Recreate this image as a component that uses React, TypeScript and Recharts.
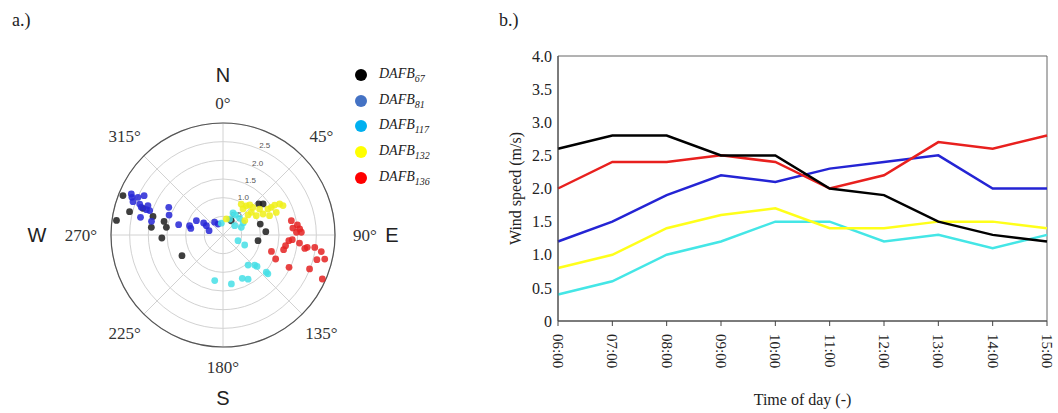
import React from "react";
import {
  RadarChart, Radar, PolarGrid, PolarAngleAxis, PolarRadiusAxis,
  ScatterChart, Scatter, XAxis, YAxis,
  LineChart, Line, ReferenceArea,
} from "recharts";

// ---------- data: polar scatter (direction in degrees from N, speed m/s) ----------
const angleLabels = ["0°", "45°", "90°", "135°", "180°", "225°", "270°", "315°"];
const compassLetters: Record<string, string> = { "0°": "N", "90°": "E", "180°": "S", "270°": "W" };
const radiusTicks = [0, 0.5, 1.0, 1.5, 2.0, 2.5, 3.0];

const dafb67Polar: [number, number][] = [
  [291.5, 2.88], [277.8, 2.88], [284, 2.58], [288.4, 2.26], [284.9, 1.94], [276.1, 1.93],
  [283, 1.62], [277.7, 1.53], [267.2, 1.64], [243.3, 1.23], [49, 1.27], [52.2, 1.36],
  [73.6, 1.04], [85.5, 1.15], [99.2, 0.95], [30, 0.44],
];
const dafb81Polar: [number, number][] = [
  [294.1, 2.69], [292.5, 2.64], [293.9, 2.49], [296.5, 2.36], [290.3, 2.57], [290.4, 2.38],
  [288.7, 2.31], [291.4, 2.16], [288.4, 2.07], [282.1, 2.26], [280.8, 1.95], [297, 1.63],
  [290.3, 1.54], [283.1, 1.22], [285.6, 0.93], [298.3, 0.81], [281.6, 0.88], [301.8, 0.61],
  [299.2, 0.51], [287.2, 0.39], [326.7, 0.41], [335.6, 0.32], [288.3, 2.16],
];
const dafb117Polar: [number, number][] = [
  [24.4, 0.65], [31.7, 0.63], [51.3, 0.4], [67.3, 0.53], [59, 0.63], [45, 0.63],
  [110.7, 0.43], [114.8, 0.64], [140.2, 1.05], [133.5, 1.17], [132.7, 1.24], [130.7, 1.53],
  [130.9, 1.59], [190.3, 1.24], [170.3, 1.33], [156, 1.27], [150.4, 1.36], [22.6, 0.46],
  [352, 0.32],
];
const dafb132Polar: [number, number][] = [
  [30.6, 0.96], [38.5, 1.0], [41.6, 1.08], [47.3, 1.09], [37.6, 0.88], [51.3, 0.97],
  [51.3, 0.86], [59.9, 1.03], [62.3, 1.21], [60, 1.39], [60.2, 1.49], [59.9, 1.6],
  [61.3, 1.73], [63.9, 1.79], [67.5, 1.35], [67, 1.55], [54.7, 1.2], [56.5, 0.7], [11.8, 0.44],
];
const dafb136Polar: [number, number][] = [
  [78.2, 1.87], [82.3, 2.01], [84.3, 1.88], [85.5, 2.06], [87.9, 1.97], [88, 2.1],
  [94.9, 1.77], [93.9, 1.86], [99.7, 1.7], [103.6, 1.67], [96, 2.06], [99.3, 2.22],
  [98.3, 2.28], [97.7, 2.48], [99.6, 2.67], [104.7, 2.6], [103.3, 2.8], [108.7, 1.37],
  [114.5, 1.55], [116.1, 1.97], [111.4, 2.49], [113.9, 2.91],
];

// ---------- data: hourly wind speed (m/s) ----------
const times = ["06:00", "07:00", "08:00", "09:00", "10:00", "11:00", "12:00", "13:00", "14:00", "15:00"];
const dafb67Speed = [2.6, 2.8, 2.8, 2.5, 2.5, 2.0, 1.9, 1.5, 1.3, 1.2];
const dafb81Speed = [1.2, 1.5, 1.9, 2.2, 2.1, 2.3, 2.4, 2.5, 2.0, 2.0];
const dafb117Speed = [0.4, 0.6, 1.0, 1.2, 1.5, 1.5, 1.2, 1.3, 1.1, 1.3];
const dafb132Speed = [0.8, 1.0, 1.4, 1.6, 1.7, 1.4, 1.4, 1.5, 1.5, 1.4];
const dafb136Speed = [2.0, 2.4, 2.4, 2.5, 2.4, 2.0, 2.2, 2.7, 2.6, 2.8];
const speedTicks = [0, 0.5, 1.0, 1.5, 2.0, 2.5, 3.0, 3.5, 4.0];

const seriesNames = ["67", "81", "117", "132", "136"];

// ---------- layout / style ----------
const CX = 223;
const CY = 235;
const R = 112;
const SERIF = "'Liberation Serif', 'Times New Roman', serif";
const SANS = "'Liberation Sans', Arial, sans-serif";

const scatterColors = ["#1c1c1c", "#2626d6", "#45dfe6", "#f0f018", "#e42222"];
const legendColors = ["#000000", "#4472c4", "#00b0f0", "#ffff00", "#ff0000"];
const lineColors = ["#000000", "#2424d4", "#44e6e6", "#ffff1a", "#e8201e"];

const toXY = (pts: [number, number][]) =>
  pts.map(([dir, s]) => ({
    x: s * Math.sin((dir * Math.PI) / 180),
    y: s * Math.cos((dir * Math.PI) / 180),
  }));

const polarSeries = [dafb67Polar, dafb81Polar, dafb117Polar, dafb132Polar, dafb136Polar].map(toXY);
const angleData = angleLabels.map((label) => ({ label, base: 0 }));
const lineData = times.map((time, i) => ({
  time,
  s67: dafb67Speed[i],
  s81: dafb81Speed[i],
  s117: dafb117Speed[i],
  s132: dafb132Speed[i],
  s136: dafb136Speed[i],
}));

const letterRadius: Record<string, number> = { N: 160, E: 169, S: 163, W: 186 };

const AngleTick = (props: any) => {
  const label = String(props.payload.value);
  const deg = parseFloat(label);
  const rad = (deg * Math.PI) / 180;
  const r = 132 + 10 * Math.abs(Math.sin(rad));
  const x = CX + r * Math.sin(rad);
  const y = CY - r * Math.cos(rad);
  const letter = compassLetters[label];
  return (
    <g>
      <text x={x} y={y} textAnchor="middle" dominantBaseline="central" fontFamily={SERIF} fontSize={17} fill="#333">
        {label}
      </text>
      {letter ? (
        <text
          x={CX + letterRadius[letter] * Math.sin(rad)}
          y={CY - letterRadius[letter] * Math.cos(rad)}
          textAnchor="middle"
          dominantBaseline="central"
          fontFamily={SANS}
          fontSize={20}
          fill="#222"
        >
          {letter}
        </text>
      ) : null}
    </g>
  );
};

const RadiusTick = (props: any) => {
  const v = Number(props.payload.value);
  if (v === 0 || v >= 3) return <g />;
  return (
    <text x={props.x + 6} y={props.y - 3} textAnchor="middle" dominantBaseline="central" fontFamily={SANS} fontSize={8} fill="#555">
      {v.toFixed(1)}
    </text>
  );
};

const TimeTick = (props: any) => {
  const { x, y, payload } = props;
  return (
    <text
      transform={`translate(${x},${y + 6}) rotate(90)`}
      textAnchor="start"
      dominantBaseline="central"
      fontFamily={SERIF}
      fontSize={15}
      fill="#222"
    >
      {payload.value}
    </text>
  );
};

const dotShape = (color: string) => (p: any) => (
  <circle cx={p.cx} cy={p.cy} r={3.4} fill={color} fillOpacity={0.85} />
);

export default function App() {
  return (
    <div style={{ position: "absolute", left: 0, top: 0, width: 1058, height: 413, background: "#fff", overflow: "hidden" }}>
      <div style={{ position: "absolute", left: 12, top: 10, fontFamily: SERIF, fontSize: 18, color: "#222" }}>a.)</div>
      <div style={{ position: "absolute", left: 499, top: 10, fontFamily: SERIF, fontSize: 18, color: "#222" }}>b.)</div>

      {/* polar grid */}
      <div style={{ position: "absolute", left: 0, top: 0 }}>
        <RadarChart
          width={420}
          height={413}
          data={angleData}
          cx={CX}
          cy={CY}
          outerRadius={R}
          margin={{ top: 0, right: 0, bottom: 0, left: 0 }}
        >
          <PolarGrid gridType="circle" stroke="#d2d2d2" strokeWidth={1} />
          <PolarAngleAxis
            dataKey="label"
            axisLineType="circle"
            axisLine={{ stroke: "#555", strokeWidth: 1.2 }}
            tickLine={false}
            tick={AngleTick}
          />
          <PolarRadiusAxis
            angle={67.5}
            type="number"
            domain={[0, 3]}
            ticks={radiusTicks as any}
            tickCount={radiusTicks.length}
            axisLine={false}
            tick={RadiusTick}
          />
          <Radar dataKey="base" stroke="none" fill="none" dot={false} isAnimationActive={false} />
        </RadarChart>
      </div>

      {/* polar scatter points */}
      <div style={{ position: "absolute", left: CX - R, top: CY - R }}>
        <ScatterChart width={2 * R} height={2 * R} margin={{ top: 0, right: 0, bottom: 0, left: 0 }}>
          <XAxis type="number" dataKey="x" domain={[-3, 3]} hide allowDataOverflow />
          <YAxis type="number" dataKey="y" domain={[-3, 3]} hide allowDataOverflow />
          {polarSeries.map((pts, i) => (
            <Scatter key={i} data={pts} isAnimationActive={false} shape={dotShape(scatterColors[i])} />
          ))}
        </ScatterChart>
      </div>

      {/* legend */}
      <div style={{ position: "absolute", left: 355, top: 62 }}>
        {seriesNames.map((n, i) => (
          <div key={n} style={{ display: "flex", alignItems: "center", height: 25.7 }}>
            <span style={{ display: "inline-block", width: 12, height: 12, borderRadius: 6, background: legendColors[i], marginRight: 12 }} />
            <span style={{ fontFamily: SERIF, fontStyle: "italic", fontSize: 14, color: "#222" }}>
              DAFB<sub style={{ fontSize: 10 }}>{n}</sub>
            </span>
          </div>
        ))}
      </div>

      {/* line chart */}
      <div style={{ position: "absolute", left: 480, top: 0 }}>
        <LineChart width={578} height={413} data={lineData} margin={{ top: 56, right: 11, bottom: 0, left: 0 }}>
          <ReferenceArea x1="06:00" x2="15:00" y1={0} y2={4} fill="none" stroke="#666" strokeWidth={1} />
          <XAxis
            dataKey="time"
            interval={0}
            height={92}
            tick={TimeTick}
            tickSize={5}
            tickLine={{ stroke: "#444" }}
            axisLine={{ stroke: "#444" }}
            label={{ value: "Time of day (-)", position: "insideBottom", offset: 8, fontFamily: SERIF, fontSize: 16, fill: "#222" }}
          />
          <YAxis
            type="number"
            domain={[0, 4]}
            ticks={speedTicks}
            interval={0}
            width={78}
            tickLine={false}
            tickMargin={0}
            axisLine={{ stroke: "#444" }}
            tickFormatter={(v: number) => (v === 0 ? "0" : v.toFixed(1))}
            tick={{ fontFamily: SERIF, fontSize: 16, fill: "#222" }}
            label={{
              value: "Wind speed (m/s)",
              angle: -90,
              position: "insideLeft",
              offset: 35,
              style: { textAnchor: "middle" },
              fontFamily: SERIF,
              fontSize: 16,
              fill: "#222",
            }}
          />
          <Line dataKey="s117" stroke={lineColors[2]} strokeWidth={2.5} dot={false} isAnimationActive={false} />
          <Line dataKey="s132" stroke={lineColors[3]} strokeWidth={2.5} dot={false} isAnimationActive={false} />
          <Line dataKey="s81" stroke={lineColors[1]} strokeWidth={2.5} dot={false} isAnimationActive={false} />
          <Line dataKey="s136" stroke={lineColors[4]} strokeWidth={2.5} dot={false} isAnimationActive={false} />
          <Line dataKey="s67" stroke={lineColors[0]} strokeWidth={2.5} dot={false} isAnimationActive={false} />
        </LineChart>
      </div>
    </div>
  );
}
